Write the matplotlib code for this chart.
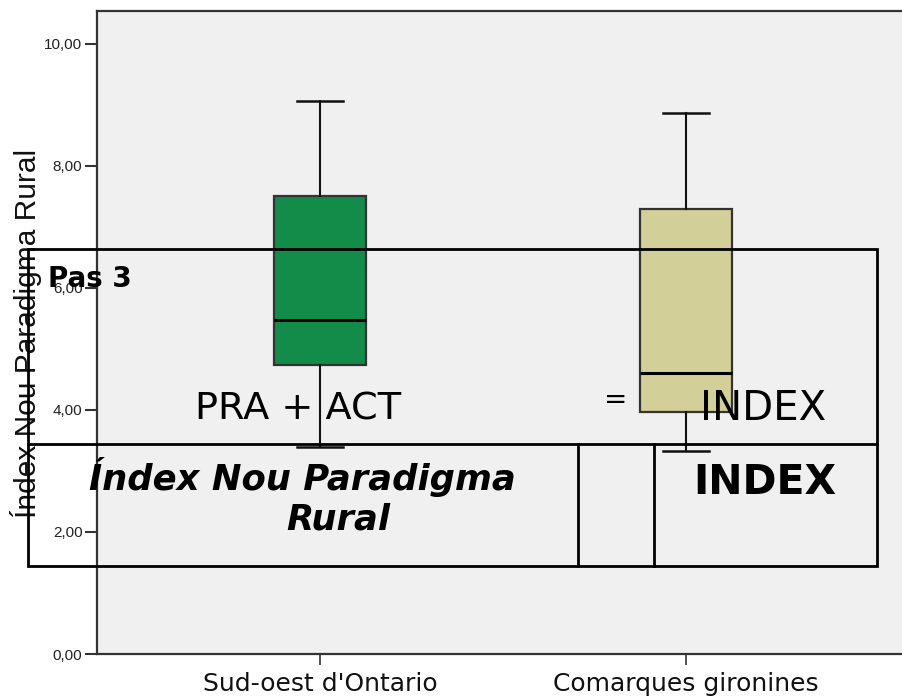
import matplotlib
matplotlib.use("Agg")
import matplotlib.pyplot as plt
from matplotlib.patches import Rectangle
from matplotlib.lines import Line2D

# ---- data ----
categories = ["Sud-oest d'Ontario", "Comarques gironines"]
whislo = [3.39, 3.33]
q1 = [4.74, 3.96]
med = [5.48, 4.61]
q3 = [7.51, 7.30]
whishi = [9.07, 8.87]
box_colors = ["#128C48", "#D3CF98"]
yticks = [0, 2, 4, 6, 8, 10]
ytick_labels = ["0,00", "2,00", "4,00", "6,00", "8,00", "10,00"]
ylabel = "Índex Nou Paradigma Rural"

W, H = 902, 696
fig = plt.figure(figsize=(W / 100, H / 100), dpi=100)
fig.patch.set_facecolor("white")
ax = fig.add_axes([97 / W, (H - 654) / H, 1 - 97 / W, (654 - 11) / H])
ax.set_facecolor("#F0F0F0")

stats = []
for i in range(len(categories)):
    stats.append(dict(label=categories[i], whislo=whislo[i], q1=q1[i], med=med[i],
                      q3=q3[i], whishi=whishi[i], fliers=[]))
pos = list(range(len(categories)))
bp = ax.bxp(stats, positions=pos, widths=0.25, patch_artist=True, showfliers=False,
            capwidths=0.125,
            boxprops=dict(edgecolor="#333333", linewidth=1.6),
            medianprops=dict(color="black", linewidth=2.2),
            whiskerprops=dict(color="#111111", linewidth=1.5),
            capprops=dict(color="#111111", linewidth=1.8))
for patch, c in zip(bp["boxes"], box_colors):
    patch.set_facecolor(c)

ax.set_xlim(-0.609, 1.59)
ax.set_ylim(0, 10.54)
ax.set_yticks(yticks)
ax.set_yticklabels(ytick_labels, fontfamily="Liberation Sans", fontsize=11, color="#222222")
ax.set_xticks(pos)
ax.set_xticklabels(categories, fontfamily="DejaVu Sans", fontsize=18, color="#111111")
ax.tick_params(axis="y", length=8.5, width=1.5, color="#333333", pad=2)
ax.tick_params(axis="x", length=8, width=1.2, color="#333333", pad=5)
for s in ["left", "bottom", "top"]:
    ax.spines[s].set_color("#333333")
    ax.spines[s].set_linewidth(1.6)
ax.spines["right"].set_visible(False)

fig.text(26 / W, 1 - 333 / H, ylabel, rotation=90, ha="center", va="center",
         fontfamily="Liberation Sans", fontsize=21.5, color="#111111")

# ---- overlay table (annotation drawn in figure pixels) ----
def fx(x):
    return x / W

def fy(y):
    return 1 - y / H

lw = 2.0
fig.add_artist(Rectangle((fx(28), fy(566)), fx(877) - fx(28), fy(249) - fy(566),
                         transform=fig.transFigure, fill=False, edgecolor="black",
                         linewidth=lw, zorder=10))
fig.add_artist(Line2D([fx(28), fx(877)], [fy(444), fy(444)], transform=fig.transFigure,
                      color="black", linewidth=lw, zorder=10))
for xv in (578, 654):
    fig.add_artist(Line2D([fx(xv), fx(xv)], [fy(444), fy(566)], transform=fig.transFigure,
                          color="black", linewidth=lw, zorder=10))

fig.text(fx(48), fy(287), "Pas 3", ha="left", va="baseline", fontsize=20,
         fontweight="bold", fontfamily="DejaVu Sans", zorder=11)
fig.text(fx(195), fy(420), "PRA + ACT", ha="left", va="baseline", fontsize=27.5,
         fontfamily="DejaVu Sans", zorder=11)
fig.text(fx(616), fy(400), "=", ha="center", va="center", fontsize=20,
         fontfamily="DejaVu Sans", zorder=11)
fig.text(fx(700), fy(420), "INDEX", ha="left", va="baseline", fontsize=29,
         fontfamily="DejaVu Sans", zorder=11)
fig.text(fx(302), fy(490), "Índex Nou Paradigma", ha="center", va="baseline", fontsize=25.5,
         fontweight="bold", fontstyle="italic", fontfamily="DejaVu Sans", zorder=11)
fig.text(fx(338), fy(530), "Rural", ha="center", va="baseline", fontsize=25.5,
         fontweight="bold", fontstyle="italic", fontfamily="DejaVu Sans", zorder=11)
fig.text(fx(693), fy(494), "INDEX", ha="left", va="baseline", fontsize=29.5,
         fontweight="bold", fontfamily="DejaVu Sans", zorder=11)

fig.savefig("out.png", dpi=100)
